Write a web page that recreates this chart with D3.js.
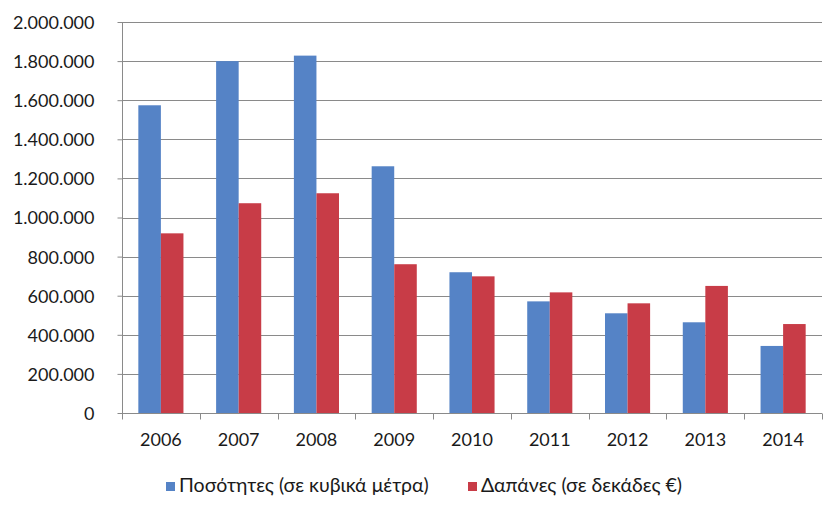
<!DOCTYPE html>
<html lang="el">

<head>
    <meta charset="utf-8">
    <script src='https://d3js.org/d3.v7.min.js'></script>
</head>

<body style="margin:0; background:#fff;">

    <style>
        svg text {
            font-family: Lato, "Noto Sans", sans-serif;
            fill: #1a1a1a;
        }
    </style>
    <script>

        // values
        var years = ["2006", "2007", "2008", "2009", "2010", "2011", "2012", "2013", "2014"];
        var quantities = [1574000, 1800000, 1828000, 1262000, 720000, 571000, 510000, 464000, 343000];
        var costs = [919000, 1073000, 1124000, 761000, 699000, 617000, 561000, 650000, 455000];
        var yTicks = [0, 200000, 400000, 600000, 800000, 1000000, 1200000, 1400000, 1600000, 1800000, 2000000];
        var seriesNames = ["Ποσότητες (σε κυβικά μέτρα)", "Δαπάνες (σε δεκάδες €)"];
        var colors = ["#5583C6", "#C83C47"];

        var width = 839, height = 507;
        var plotLeft = 122, plotRight = 822, plotTop = 22, plotBottom = 413;

        var fmt = d3.formatLocale({ decimal: ",", thousands: ".", grouping: [3], currency: ["", "€"] }).format(",");

        var svg = d3.select("body")
            .append("svg")
            .attr("width", width)
            .attr("height", height);

        var x0 = d3.scaleBand()
            .domain(years)
            .range([plotLeft, plotRight])
            .paddingInner(0.42)
            .paddingOuter(0.21);

        var x1 = d3.scaleBand()
            .domain([0, 1])
            .range([0, x0.bandwidth()]);

        var y = d3.scaleLinear()
            .domain([0, 2000000])
            .range([plotBottom, plotTop]);

        // gridlines
        svg.append("g")
            .selectAll("line")
            .data(yTicks.slice(1))
            .enter()
            .append("line")
            .attr("x1", plotLeft)
            .attr("x2", plotRight)
            .attr("y1", function(d) { return Math.round(y(d)) + 0.5; })
            .attr("y2", function(d) { return Math.round(y(d)) + 0.5; })
            .attr("stroke", "#8a8a8a")
            .attr("stroke-width", 1);

        // bars
        var group = svg.append("g")
            .selectAll("g")
            .data(years)
            .enter()
            .append("g")
            .attr("transform", function(d) { return "translate(" + x0(d) + ",0)"; });

        group.selectAll("rect")
            .data(function(d, i) { return [quantities[i], costs[i]]; })
            .enter()
            .append("rect")
            .attr("x", function(d, i) { return x1(i); })
            .attr("width", x1.bandwidth())
            .attr("y", function(d) { return y(d); })
            .attr("height", function(d) { return plotBottom - y(d); })
            .attr("fill", function(d, i) { return colors[i]; });

        // y axis
        var yAxis = svg.append("g")
            .attr("transform", "translate(" + (plotLeft + 0.5) + ",0)")
            .call(d3.axisLeft(y).tickValues(yTicks).tickFormat(fmt).tickSize(5).tickPadding(23));
        yAxis.select(".domain").attr("stroke", "#8a8a8a").attr("d", "M0," + plotTop + "V" + plotBottom);
        yAxis.selectAll(".tick line").attr("stroke", "#8a8a8a");
        yAxis.selectAll(".tick text")
            .attr("font-size", 18)
            .attr("dy", "0.36em")
            .style("font-family", "Lato, 'Noto Sans', sans-serif")
            .attr("fill", "#1a1a1a");

        // x axis: ticks at the category boundaries
        var xAxis = svg.append("g")
            .attr("transform", "translate(0," + (plotBottom + 0.5) + ")");
        xAxis.append("line")
            .attr("x1", plotLeft)
            .attr("x2", plotRight)
            .attr("stroke", "#8a8a8a");
        var bounds = years.map(function(d) { return x0(d) - x0.step() * x0.paddingInner() / 2; });
        bounds.push(plotRight);
        xAxis.selectAll("line.tk")
            .data(bounds)
            .enter()
            .append("line")
            .attr("class", "tk")
            .attr("x1", function(d) { return Math.round(d) + 0.5; })
            .attr("x2", function(d) { return Math.round(d) + 0.5; })
            .attr("y1", 0)
            .attr("y2", 6)
            .attr("stroke", "#8a8a8a");
        xAxis.selectAll("text")
            .data(years)
            .enter()
            .append("text")
            .attr("x", function(d) { return x0(d) + x0.bandwidth() / 2; })
            .attr("y", 32)
            .attr("text-anchor", "middle")
            .attr("font-size", 18)
            .text(function(d) { return d; });

        // legend
        var legendX = [166, 468];
        var legend = svg.append("g")
            .selectAll("g")
            .data(seriesNames)
            .enter()
            .append("g")
            .attr("transform", function(d, i) { return "translate(" + legendX[i] + ",482)"; });
        legend.append("rect")
            .attr("width", 9)
            .attr("height", 9)
            .attr("fill", function(d, i) { return colors[i]; });
        legend.append("text")
            .attr("x", 13)
            .attr("y", 10)
            .attr("font-size", 19.5)
            .text(function(d) { return d; });

    </script>

</body>

</html>
